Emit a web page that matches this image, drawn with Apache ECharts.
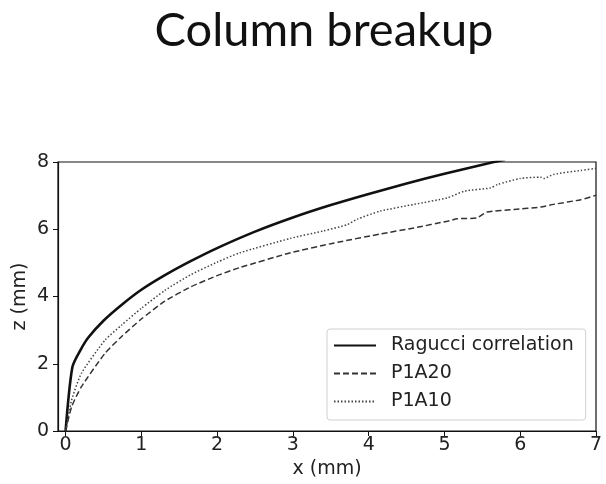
<!DOCTYPE html>
<html><head><meta charset="utf-8">
<script src="https://cdn.jsdelivr.net/npm/echarts@6/dist/echarts.min.js"></script>
<style>html,body{margin:0;padding:0;background:#fff}#c{width:606px;height:484px}</style>
</head><body><div id="c"></div>
<script>
const raguX = [0, 0.09, 0.2, 0.3, 0.5, 0.75, 1, 1.3, 1.65, 2, 2.5, 3, 3.5, 4, 4.5, 5, 5.5, 5.8];
const raguZ = [0, 1.9, 2.42, 2.78, 3.28, 3.77, 4.2, 4.62, 5.05, 5.44, 5.93, 6.35, 6.72, 7.05, 7.36, 7.65, 7.92, 8.07];
const p20X = [0, 0.08, 0.21, 0.52, 0.74, 1, 1.31, 1.645, 2, 2.3, 2.97, 3.5, 3.63, 4.155, 4.6, 5.04, 5.17, 5.43, 5.56, 5.92, 6.27, 6.44, 6.8, 7.0];
const p20Z = [0, 0.72, 1.32, 2.31, 2.81, 3.33, 3.86, 4.28, 4.62, 4.86, 5.3, 5.57, 5.63, 5.86, 6.04, 6.24, 6.31, 6.34, 6.51, 6.59, 6.66, 6.74, 6.88, 7.01];
const p10X = [0, 0.08, 0.21, 0.52, 0.74, 1, 1.31, 1.645, 2, 2.3, 2.97, 3.4, 3.71, 3.85, 4.155, 4.6, 5.04, 5.26, 5.61, 5.7, 6.0, 6.27, 6.31, 6.44, 6.8, 7.0];
const p10Z = [0, 0.92, 1.72, 2.7, 3.15, 3.65, 4.18, 4.64, 5.02, 5.3, 5.73, 5.95, 6.13, 6.3, 6.54, 6.74, 6.935, 7.13, 7.23, 7.33, 7.51, 7.55, 7.51, 7.63, 7.75, 7.81];
const xTicks = [0, 1, 2, 3, 4, 5, 6, 7];
const seriesNames = ['Ragucci correlation', 'P1A20', 'P1A10'];

const pair = (xs, zs) => xs.map((x, i) => [x, zs[i]]);
const chart = echarts.init(document.getElementById('c'));
const tickFont = {fontFamily: 'DejaVu Sans', fontSize: 19, color: '#222'};
chart.setOption({
  animation: false,
  title: {text: 'Column breakup', left: 319, textAlign: 'center', top: 2,
    textStyle: {fontFamily: 'Lato', fontWeight: 'normal', fontSize: 47, color: '#111'}},
  grid: {left: 58, right: 10, top: 162, bottom: 53, show: true, borderColor: '#111', borderWidth: 1.2, backgroundColor: 'transparent'},
  legend: {orient: 'vertical', left: 327, top: 329, data: seriesNames,
    itemWidth: 42, itemHeight: 19, itemGap: 9, padding: [7, 12, 9, 6],
    borderColor: '#d0d0d0', borderWidth: 1, borderRadius: 3, backgroundColor: '#fff',
    itemStyle: {opacity: 0},
    textStyle: Object.assign({}, tickFont, {padding: [0, 0, 0, 10]})},
  xAxis: {type: 'value', min: -0.1, max: 7, name: 'x (mm)', nameLocation: 'middle', nameGap: 29, nameMoveOverlap: false,
    nameTextStyle: tickFont,
    axisLine: {show: true, onZero: false, lineStyle: {color: '#111', width: 1.2}},
    axisTick: {show: true, inside: false, length: 5, customValues: xTicks, lineStyle: {color: '#111'}},
    axisLabel: Object.assign({customValues: xTicks, margin: 5}, tickFont),
    splitLine: {show: false}},
  yAxis: {type: 'value', min: 0, max: 8, interval: 2, name: 'z (mm)', nameLocation: 'middle', nameGap: 28, nameMoveOverlap: false,
    nameTextStyle: tickFont,
    axisLine: {show: true, onZero: false, lineStyle: {color: '#111', width: 1.2}},
    axisTick: {show: true, inside: false, length: 5, lineStyle: {color: '#111'}},
    axisLabel: Object.assign({margin: 9}, tickFont),
    splitLine: {show: false}},
  series: [
    {name: seriesNames[0], type: 'line', data: pair(raguX, raguZ), symbol: 'none', smooth: 0.25,
      lineStyle: {color: '#111', width: 2.6, type: 'solid'}, itemStyle: {color: '#111'}},
    {name: seriesNames[1], type: 'line', data: pair(p20X, p20Z), symbol: 'none', smooth: 0.2,
      lineStyle: {color: '#333', width: 1.5, type: [6, 3]}, itemStyle: {color: '#333'}},
    {name: seriesNames[2], type: 'line', data: pair(p10X, p10Z), symbol: 'none', smooth: 0.2,
      lineStyle: {color: '#444', width: 1.5, type: [1.5, 2]}, itemStyle: {color: '#444'}}
  ]
});
</script></body></html>
